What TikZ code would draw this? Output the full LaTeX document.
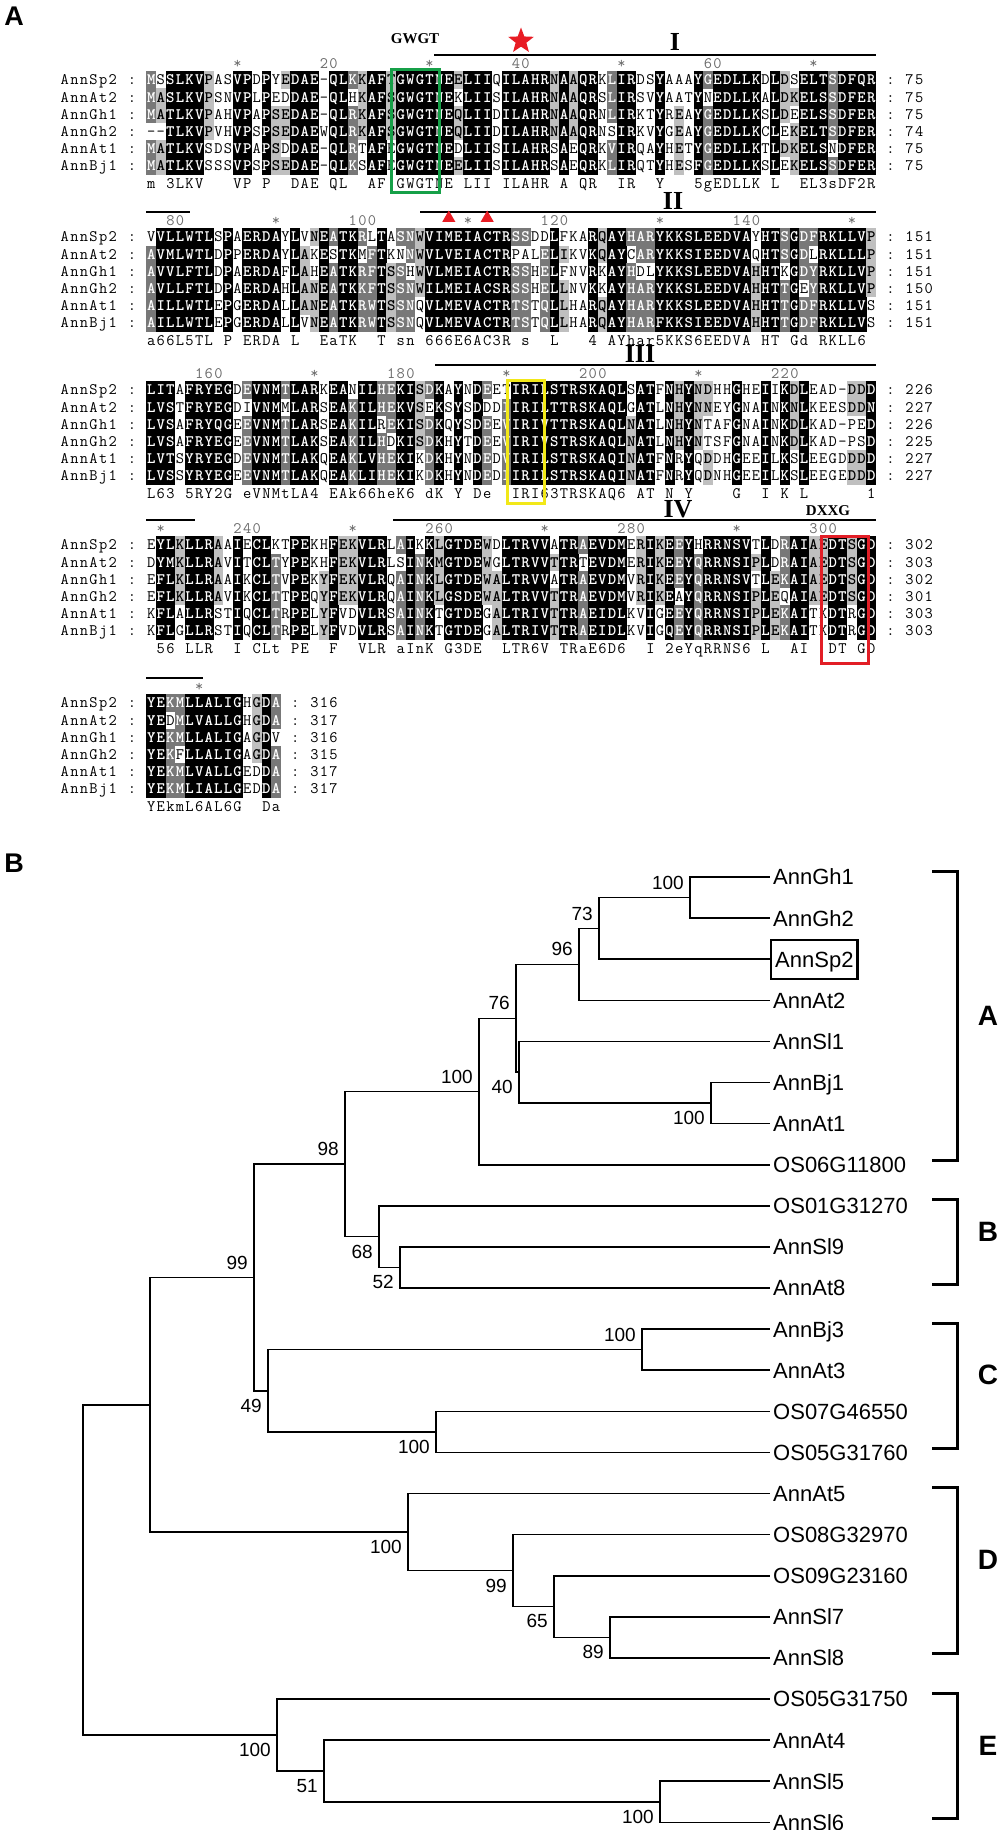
\documentclass[tikz,border=0pt]{standalone}
\usepackage{fontspec}
\setmainfont{Liberation Serif}
\setsansfont{Liberation Sans}
\usetikzlibrary{shapes.geometric}
\definecolor{dgray}{gray}{0.47}
\definecolor{lgray}{gray}{0.75}
\definecolor{rulgray}{gray}{0.42}
\definecolor{starred}{RGB}{232,28,36}
\definecolor{boxgreen}{RGB}{22,160,72}
\definecolor{boxyellow}{RGB}{242,232,24}
\definecolor{boxred}{RGB}{226,30,38}
\tikzset{
  seq/.style={font=\ttfamily\bfseries\fontsize{16}{16}\selectfont, inner sep=0pt, anchor=base},
  seqreg/.style={font=\ttfamily\mdseries\fontsize{16}{16}\selectfont},
  nm/.style={seqreg},
  rul/.style={seqreg, text=rulgray},
  motif/.style={font=\bfseries\fontsize{26}{26}\selectfont, inner sep=0pt, anchor=base},
  motiflab/.style={font=\bfseries\fontsize{15}{15}\selectfont, inner sep=0pt, anchor=base},
  bar/.style={line width=2pt},
  hbox/.style={line width=3pt},
  panel/.style={font=\sffamily\bfseries\fontsize{27}{27}\selectfont, inner sep=0pt},
  tree/.style={line width=1.6pt},
  leaf/.style={font=\sffamily\fontsize{22}{22}\selectfont, anchor=west, inner xsep=3pt, inner ysep=0pt, text height=15.8pt, text depth=0pt},
  bs/.style={font=\sffamily\fontsize{19}{19}\selectfont, inner sep=1pt},
  bsa/.style={bs, anchor=south east, xshift=-5pt, yshift=7pt},
  bsb/.style={bs, anchor=north east, xshift=-5pt, yshift=-7pt},
  brk/.style={line width=3pt},
  grp/.style={font=\sffamily\bfseries\fontsize{28}{28}\selectfont, inner sep=0pt},
}
\newcommand\AlnChar[4]{\node[seq,#1] at (#2,#3+4.9) {#4};}
\newcommand\AlnCell[4]{%
  \ifcase#4\relax
  \or\fill[lgray] (#1-4.9,#2-8.7) rectangle (#1+4.9,#2+8.7);%
  \or\fill[dgray] (#1-4.9,#2-8.7) rectangle (#1+4.9,#2+8.7);%
  \or\fill[black] (#1-4.9,#2-8.7) rectangle (#1+4.9,#2+8.7);%
  \fi
  \ifcase#4\relax\node[seq,seqreg] at (#1,#2+4.9) {#3};%
  \or\node[seq] at (#1,#2+4.9) {#3};%
  \else\node[seq,text=white] at (#1,#2+4.9) {#3};\fi}

\ExplSyntaxOn
\int_new:N \l__aln_id_int
\int_new:N \l__aln_gr_int
\int_new:N \l__aln_lev_int
\int_new:N \l__aln_maxid_int
\int_new:N \l__aln_maxgr_int
\int_new:N \l__aln_len_int
\tl_new:N \l__aln_ch_tl
\tl_new:N \l__aln_g_tl
\tl_new:N \l__aln_o_tl
\tl_new:N \l__aln_best_tl
\tl_new:N \l__aln_bestg_tl
\tl_new:N \l__aln_cons_tl
\tl_new:N \l__aln_x_tl
\tl_new:N \l__aln_y_tl
\tl_new:N \l__aln_ps_tl
\str_new:N \l__aln_ps_str
\int_step_inline:nn {6}
  {
    \str_new:c { l__aln_row_#1_str }
    \tl_new:c { l__aln_c_#1_tl }
    \tl_new:c { l__aln_cg_#1_tl }
  }
\clist_const:Nn \c__aln_names_clist { AnnSp2,AnnAt2,AnnGh1,AnnGh2,AnnAt1,AnnBj1 }

\cs_new:Npn \__aln_group:n #1
  {
    \str_case:nnF {#1}
      {
        {D}{1} {N}{1} {E}{2} {Q}{2} {S}{3} {T}{3} {K}{4} {R}{4}
        {F}{5} {Y}{5} {W}{5} {L}{6} {I}{6} {V}{6} {M}{6}
      }
      {0}
  }

\cs_new_protected:Npn \__aln_put:nnnn #1#2#3#4
  {
    \str_set:Nn \l__aln_ps_str {#4}
    \int_step_inline:nn { \str_count:N \l__aln_ps_str }
      {
        \tl_set:Nx \l__aln_ps_tl { \str_item:Nn \l__aln_ps_str {##1} }
        \str_if_eq:VnF \l__aln_ps_tl { ~ }
          {
            \use:x
              {
                \exp_not:N \AlnChar {#1}
                  { \fp_eval:n { #2 + (##1 - 0.5) * 9.6 } }
                  {#3}
                  { \exp_not:V \l__aln_ps_tl }
              }
          }
      }
  }

\cs_new_protected:Npn \__aln_cell:nn #1#2
  {
    \tl_set_eq:Nc \l__aln_ch_tl { l__aln_c_#1_tl }
    \tl_set_eq:Nc \l__aln_g_tl { l__aln_cg_#1_tl }
    \int_zero:N \l__aln_id_int
    \int_zero:N \l__aln_gr_int
    \str_if_eq:VnF \l__aln_ch_tl { - }
      {
        \int_step_inline:nn {6}
          {
            \tl_set_eq:Nc \l__aln_o_tl { l__aln_c_##1_tl }
            \str_if_eq:VVT \l__aln_o_tl \l__aln_ch_tl { \int_incr:N \l__aln_id_int }
            \str_if_eq:VnF \l__aln_g_tl { 0 }
              {
                \tl_set_eq:Nc \l__aln_o_tl { l__aln_cg_##1_tl }
                \str_if_eq:VVT \l__aln_o_tl \l__aln_g_tl { \int_incr:N \l__aln_gr_int }
              }
          }
        \int_compare:nNnT \l__aln_id_int > \l__aln_maxid_int
          {
            \int_set_eq:NN \l__aln_maxid_int \l__aln_id_int
            \tl_set_eq:NN \l__aln_best_tl \l__aln_ch_tl
          }
        \int_compare:nNnT \l__aln_gr_int > \l__aln_maxgr_int
          {
            \int_set_eq:NN \l__aln_maxgr_int \l__aln_gr_int
            \tl_set_eq:NN \l__aln_bestg_tl \l__aln_g_tl
          }
      }
    \int_set:Nn \l__aln_lev_int { \int_max:nn { \l__aln_id_int } { \l__aln_gr_int } - 3 }
    \int_compare:nNnT \l__aln_lev_int < 0 { \int_zero:N \l__aln_lev_int }
    \use:x
      {
        \exp_not:N \AlnCell { \l__aln_x_tl } { \fp_eval:n { #2 + (#1 - 1) * 17.2 } }
          { \exp_not:V \l__aln_ch_tl } { \int_use:N \l__aln_lev_int }
      }
  }

\cs_new_protected:Npn \__aln_col:nn #1#2
  {
    \int_step_inline:nn {6}
      {
        \tl_set:cx { l__aln_c_##1_tl }
          { \exp_args:Nc \str_item:Nn { l__aln_row_##1_str } {#1} }
        \tl_set:cx { l__aln_cg_##1_tl }
          { \exp_args:Nv \__aln_group:n { l__aln_c_##1_tl } }
      }
    \int_zero:N \l__aln_maxid_int
    \int_zero:N \l__aln_maxgr_int
    \tl_clear:N \l__aln_best_tl
    \tl_clear:N \l__aln_bestg_tl
    \tl_set:Nx \l__aln_x_tl { \fp_eval:n { 146.4 + (#1 - 0.5) * 9.6 } }
    \int_step_inline:nn {6} { \__aln_cell:nn {##1} {#2} }
    \tl_clear:N \l__aln_cons_tl
    \int_compare:nNnTF \l__aln_maxid_int = 6
      { \tl_set_eq:NN \l__aln_cons_tl \l__aln_best_tl }
      {
        \int_compare:nNnTF \l__aln_maxgr_int = 6
          { \tl_set_eq:NN \l__aln_cons_tl \l__aln_bestg_tl }
          {
            \int_compare:nNnT \l__aln_maxid_int = 5
              { \tl_set:Nx \l__aln_cons_tl { \exp_not:N \lowercase { \exp_not:V \l__aln_best_tl } } }
          }
      }
    \tl_if_empty:NF \l__aln_cons_tl
      {
        \use:x
          {
            \exp_not:N \AlnChar {nm} { \l__aln_x_tl } { \fp_eval:n { #2 + 6 * 17.2 } }
              { \exp_not:V \l__aln_cons_tl }
          }
      }
  }

\NewDocumentCommand \AlnBlock { m m m m m m m m m }
  {
    \str_set:cn { l__aln_row_1_str } {#3}
    \str_set:cn { l__aln_row_2_str } {#4}
    \str_set:cn { l__aln_row_3_str } {#5}
    \str_set:cn { l__aln_row_4_str } {#6}
    \str_set:cn { l__aln_row_5_str } {#7}
    \str_set:cn { l__aln_row_6_str } {#8}
    \int_set:Nn \l__aln_len_int { \exp_args:Nc \str_count:N { l__aln_row_1_str } }
    \int_step_inline:nn { \l__aln_len_int } { \__aln_col:nn {##1} {#1} }
    \int_step_inline:nn {6}
      {
        \tl_set:Nx \l__aln_y_tl { \fp_eval:n { #1 + (##1 - 1) * 17.2 } }
        \use:x
          {
            \exp_not:N \__aln_put:nnnn {nm} {60} { \l__aln_y_tl }
              { \clist_item:Nn \c__aln_names_clist {##1} }
            \exp_not:N \AlnChar {nm} {132} { \l__aln_y_tl } {:}
            \exp_not:N \AlnChar {nm}
              { \fp_eval:n { 146.4 + ( \int_use:N \l__aln_len_int + 1.5 ) * 9.6 } }
              { \l__aln_y_tl } {:}
            \exp_not:N \__aln_put:nnnn {nm}
              { \fp_eval:n { 146.4 + ( \int_use:N \l__aln_len_int + 3 ) * 9.6 } }
              { \l__aln_y_tl } { \clist_item:nn {#9} {##1} }
          }
      }
    \int_step_inline:nn { \l__aln_len_int }
      {
        \int_set:Nn \l_tmpa_int { #2 + ##1 - 1 }
        \int_compare:nNnT { \int_mod:nn { \l_tmpa_int } { 10 } } = 0
          {
            \int_if_odd:nTF { \l_tmpa_int / 10 }
              {
                \use:x
                  {
                    \exp_not:N \AlnChar {rul}
                      { \fp_eval:n { 146.4 + (##1 - 0.5) * 9.6 } }
                      { \fp_eval:n { #1 - 16 } } {*}
                  }
              }
              {
                \use:x
                  {
                    \exp_not:N \__aln_put:nnnn {rul}
                      { \fp_eval:n { 146.4 + (##1 - \int_compare:nNnTF { \l_tmpa_int } < {100} {2} {3} ) * 9.6 } }
                      { \fp_eval:n { #1 - 16 } }
                      { \int_use:N \l_tmpa_int }
                  }
              }
          }
      }
  }
\ExplSyntaxOff

\begin{document}
\begin{tikzpicture}[x=1pt,y=-1pt]
\useasboundingbox (0,0) rectangle (1000,1830);
\fill[white] (0,0) rectangle (1000,1830);

% ---------------- Panel A ----------------
\node[panel] (pa) at (14,16) {A};

\AlnBlock{80}{1}
 {MSSLKVPASVPDPYEDAE-QLKKAFTGWGTNEELIIQILAHRNAAQRKLIRDSYAAAYGEDLLKDLDSELTSDFQR}
 {MASLKVPSNVPLPEDDAE-QLHKAFSGWGTNEKLIISILAHRNAAQRSLIRSVYAATYNEDLLKALDKELSSDFER}
 {MATLKVPAHVPAPSEDAE-QLRKAFSGWGTNEQLIIDILAHRNAAQRNLIRKTYREAYGEDLLKSLDEELSSDFER}
 {--TLKVPVHVPSPSEDAEWQLRKAFSGWGTNEQLIIDILAHRNAAQRNSIRKVYGEAYGEDLLKCLEKELTSDFER}
 {MATLKVSDSVPAPSDDAE-QLRTAFEGWGTNEDLIISILAHRSAEQRKVIRQAYHETYGEDLLKTLDKELSNDFER}
 {MATLKVSSSVPSPSEDAE-QLKSAFEGWGTNEELIISILAHRSAEQRKLIRQTYHESFGEDLLKSLEKELSSDFER}
 {75,75,75,74,75,75}
\draw[bar] (434.4,55) -- (876,55);
\node[motif] (m1) at (675,51) {I};
\node[motiflab] (gwgt) at (415,44) {GWGT};
\node[star, star points=5, star point ratio=2.4, fill=starred, inner sep=0pt, minimum size=27pt] (st) at (521,41) {};
\draw[hbox,boxgreen] (391,70) rectangle (439,193);

\AlnBlock{237}{77}
 {VVLLWTLSPAERDAYLVNEATKRLTASNWVIMEIACTRSSDDLFKARQAYHARYKKSLEEDVAYHTSGDFRKLLVP}
 {AVMLWTLDPPERDAYLAKESTKMFTKNNWVLVEIACTRPALELIKVKQAYCARYKKSIEEDVAQHTSGDLRKLLLP}
 {AVVLFTLDPAERDAFLAHEATKRFTSSHWVLMEIACTRSSHELFNVRKAYHDLYKKSLEEDVAHHTKGDYRKLLVP}
 {AVLLFTLDPAERDAHLANEATKKFTSSNWILMEIACSRSSHELLNVKKAYHARYKKSLEEDVAHHTTGEYRKLLVP}
 {AILLWTLEPGERDALLANEATKRWTSSNQVLMEVACTRTSTQLLHARQAYHARYKKSLEEDVAHHTTGDFRKLLVS}
 {AILLWTLEPGERDALLVNEATKRWTSSNQVLMEVACTRTSTQLLHARQAYHARFKKSIEEDVAHHTTGDFRKLLVS}
 {151,151,151,150,151,151}
\draw[bar] (146.4,212) -- (190,212);
\draw[bar] (420,212) -- (876,212);
\node[motif] (m2) at (673,209) {II};
\node[regular polygon, regular polygon sides=3, fill=starred, inner sep=0pt, minimum size=15pt] (t1) at (448.8,218) {};
\node[regular polygon, regular polygon sides=3, fill=starred, inner sep=0pt, minimum size=15pt] (t2) at (487.2,218) {};

\AlnBlock{390}{153}
 {LITAFRYEGDEVNMTLARKEANILHEKISDKAYNDEETIRILSTRSKAQLSATFNHYNDHHGHEIIKDLEAD-DDD}
 {LVSTFRYEGDIVNMMLARSEAKILHEKVSEKSYSDDDIIRILTTRSKAQLGATLNHYNNEYGNAINKNLKEESDDN}
 {LVSAFRYQGEEVNMTLARSEAKILREKISDKQYSDEEVIRIVTTRSKAQLNATLNHYNTAFGNAINKDLKAD-PED}
 {LVSAFRYEGEEVNMTLAKSEAKILHDKISDKHYTDEEVIRIVSTRSKAQLNATLNHYNTSFGNAINKDLKAD-PSD}
 {LVTSYRYEGDEVNMTLAKQEAKLVHEKIKDKHYNDEDVIRILSTRSKAQINATFNRYQDDHGEEILKSLEEGDDDD}
 {LVSSYRYEGEEVNMTLAKQEAKLIHEKIKDKHYNDEDIIRILSTRSKAQINATFNRYQDNHGEEILKSLEEGEDDD}
 {226,227,226,225,227,227}
\draw[bar] (435,365) -- (876,365);
\node[motif] (m3) at (640,362) {III};
\draw[hbox,boxyellow] (507,380) rectangle (544,503);

\AlnBlock{545}{229}
 {EYLKLLRAAIECLKTPEKHFEKVLRLAIKKLGTDEWDLTRVVATRAEVDMERIKEEYHRRNSVTLDRAIAEDTSGD}
 {DYMKLLRAVITCLTYPEKHFEKVLRLSINKMGTDEWGLTRVVTTRTEVDMERIKEEYQRRNSIPLDRAIAEDTSGD}
 {EFLKLLRAAIKCLTVPEKYFEKVLRQAINKLGTDEWALTRVVATRAEVDMVRIKEEYQRRNSVTLEKAIAEDTSGD}
 {EFLKLLRAVIKCLTTPEQYFEKVLRQAINKLGSDEWALTRVVTTRAEVDMVRIKEAYQRRNSIPLEQAIAEDTSGD}
 {KFLALLRSTIQCLTRPELYFVDVLRSAINKTGTDEGALTRIVTTRAEIDLKVIGEEYQRRNSIPLEKAITKDTRGD}
 {KFLGLLRSTIQCLTRPELYFVDVLRSAINKTGTDEGALTRIVTTRAEIDLKVIGQEYQRRNSIPLEKAITKDTRGD}
 {302,303,302,301,303,303}
\draw[bar] (146.4,520) -- (195,520);
\draw[bar] (393,520) -- (876,520);
\node[motif] (m4) at (678,517) {IV};
\node[motiflab] (dxxg) at (828,515) {DXXG};
\draw[hbox,boxred] (821,536) rectangle (868,663);

\AlnBlock{703}{305}
 {YEKMLLALIGHGDA}{YEDMLVALLGHGDA}{YEKMLLALIGAGDV}{YEKFLLALIGAGDA}{YEKMLVALLGEDDA}{YEKMLIALLGEDDA}
 {316,317,316,315,317,317}
\draw[bar] (146.4,678) -- (203,678);

% ---------------- Panel B ----------------
\node[panel] (pb) at (14,863) {B};

% leaves
\node[leaf] (gh1) at (770,877.0) {AnnGh1};
\node[leaf] (gh2) at (770,918.1) {AnnGh2};
\node[leaf, draw, line width=2.4pt, inner xsep=4pt, minimum height=39pt] (sp2) at (770,959.2) {AnnSp2\hspace{10pt}};
\node[leaf] (at2) at (770,1000.3) {AnnAt2};
\node[leaf] (sl1) at (770,1041.4) {AnnSl1};
\node[leaf] (bj1) at (770,1082.5) {AnnBj1};
\node[leaf] (at1) at (770,1123.6) {AnnAt1};
\node[leaf] (os06) at (770,1164.7) {OS06G11800};
\node[leaf] (os01) at (770,1205.8) {OS01G31270};
\node[leaf] (sl9) at (770,1246.9) {AnnSl9};
\node[leaf] (at8) at (770,1288.0) {AnnAt8};
\node[leaf] (bj3) at (770,1329.1) {AnnBj3};
\node[leaf] (at3) at (770,1370.2) {AnnAt3};
\node[leaf] (os07) at (770,1411.3) {OS07G46550};
\node[leaf] (os0576) at (770,1452.4) {OS05G31760};
\node[leaf] (at5) at (770,1493.5) {AnnAt5};
\node[leaf] (os08) at (770,1534.6) {OS08G32970};
\node[leaf] (os09) at (770,1575.7) {OS09G23160};
\node[leaf] (sl7) at (770,1616.8) {AnnSl7};
\node[leaf] (sl8) at (770,1657.9) {AnnSl8};
\node[leaf] (os0575) at (770,1699.0) {OS05G31750};
\node[leaf] (at4) at (770,1740.1) {AnnAt4};
\node[leaf] (sl5) at (770,1781.2) {AnnSl5};
\node[leaf] (sl6) at (770,1822.3) {AnnSl6};

% internal nodes
\coordinate (nroot) at (83,1569.8);
\coordinate (nabcd) at (150,1404.7);
\coordinate (nabc) at (254,1277.4);
\coordinate (nab) at (345,1164.1);
\coordinate (na) at (479,1091.5);
\coordinate (n76) at (516,1018.3);
\coordinate (n96) at (579,964.3);
\coordinate (n73) at (599,928.4);
\coordinate (ngh) at (690,897.55);
\coordinate (n40) at (519,1072.2);
\coordinate (nbjat) at (711,1103.05);
\coordinate (nb) at (379,1236.6);
\coordinate (n52) at (400,1267.45);
\coordinate (nc) at (268,1390.75);
\coordinate (nc1) at (642,1349.65);
\coordinate (nc2) at (436,1431.85);
\coordinate (nd) at (408,1532.05);
\coordinate (n99d) at (513,1570.6);
\coordinate (n65) at (554,1606.5);
\coordinate (n89) at (610,1637.35);
\coordinate (ne) at (277,1734.95);
\coordinate (n51) at (324,1770.9);
\coordinate (nsl56) at (660,1801.75);

\begin{scope}[tree]
\draw (nroot) |- (nabcd); \draw (nroot) |- (ne);
\draw (nabcd) |- (nabc); \draw (nabcd) |- (nd);
\draw (nabc) |- (nab); \draw (nabc) |- (nc);
\draw (nab) |- (na); \draw (nab) |- (nb);
\draw (na) |- (n76); \draw (na) |- (os06.west);
\draw (n76) |- (n96); \draw (n76) |- (n40);
\draw (n96) |- (n73); \draw (n96) |- (at2.west);
\draw (n73) |- (ngh); \draw (n73) |- (sp2.west);
\draw (ngh) |- (gh1.west); \draw (ngh) |- (gh2.west);
\draw (n40) |- (sl1.west); \draw (n40) |- (nbjat);
\draw (nbjat) |- (bj1.west); \draw (nbjat) |- (at1.west);
\draw (nb) |- (os01.west); \draw (nb) |- (n52);
\draw (n52) |- (sl9.west); \draw (n52) |- (at8.west);
\draw (nc) |- (nc1); \draw (nc) |- (nc2);
\draw (nc1) |- (bj3.west); \draw (nc1) |- (at3.west);
\draw (nc2) |- (os07.west); \draw (nc2) |- (os0576.west);
\draw (nd) |- (at5.west); \draw (nd) |- (n99d);
\draw (n99d) |- (os08.west); \draw (n99d) |- (n65);
\draw (n65) |- (os09.west); \draw (n65) |- (n89);
\draw (n89) |- (sl7.west); \draw (n89) |- (sl8.west);
\draw (ne) |- (os0575.west); \draw (ne) |- (n51);
\draw (n51) |- (at4.west); \draw (n51) |- (nsl56);
\draw (nsl56) |- (sl5.west); \draw (nsl56) |- (sl6.west);
\end{scope}

% bootstrap values
\node[bsa] at (ngh) {100};
\node[bsa] at (n73) {73};
\node[bsa] at (n96) {96};
\node[bsa] at (n76) {76};
\node[bsa] at (na) {100};
\node[bsa] at (nab) {98};
\node[bsa] at (nabc) {99};
\node[bsa] at (nc1) {100};
\node[bsb] at (n40) {40};
\node[bsb] at (nbjat) {100};
\node[bsb] at (nb) {68};
\node[bsb] at (n52) {52};
\node[bsb] at (nc) {49};
\node[bsb] at (nc2) {100};
\node[bsb] at (nd) {100};
\node[bsb] at (n99d) {99};
\node[bsb] at (n65) {65};
\node[bsb] at (n89) {89};
\node[bsb] at (ne) {100};
\node[bsb] at (n51) {51};
\node[bsb] at (nsl56) {100};

% group brackets
\draw[brk] (932,871) -- (957,871) -- (957,1160.7) -- (932,1160.7);
\draw[brk] (932,1199.8) -- (957,1199.8) -- (957,1284) -- (932,1284);
\draw[brk] (932,1323.1) -- (957,1323.1) -- (957,1448.4) -- (932,1448.4);
\draw[brk] (932,1487.5) -- (957,1487.5) -- (957,1653.9) -- (932,1653.9);
\draw[brk] (932,1693) -- (957,1693) -- (957,1818.3) -- (932,1818.3);
\node[grp] (gA) at (988,1016) {A};
\node[grp] (gB) at (988,1232) {B};
\node[grp] (gC) at (988,1375) {C};
\node[grp] (gD) at (988,1560) {D};
\node[grp] (gE) at (988,1746) {E};
\end{tikzpicture}
\end{document}
